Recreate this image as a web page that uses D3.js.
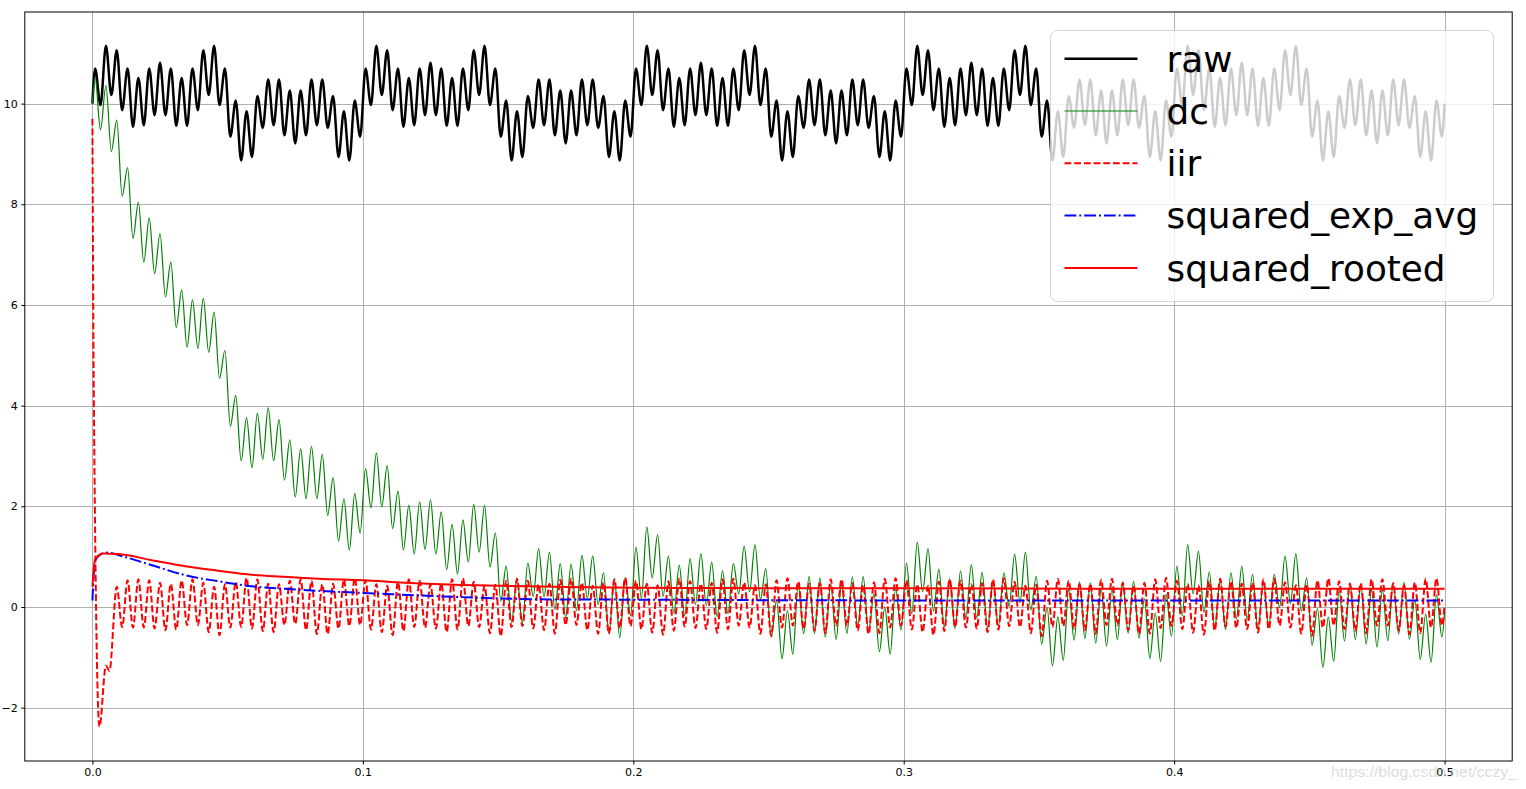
<!DOCTYPE html>
<html><head><meta charset="utf-8">
<script src="https://cdn.jsdelivr.net/npm/d3@7"></script>
<style>html,body{margin:0;padding:0;background:#fff;overflow:hidden}</style>
</head><body><svg id="chart" width="1526" height="789"></svg>
<script>
// ---------------- data ----------------
const xTicks = [0, 0.1, 0.2, 0.3, 0.4, 0.5];
const yTicks = [-2, 0, 2, 4, 6, 8, 10];
const seriesNames = ["raw", "dc", "iir", "squared_exp_avg", "squared_rooted"];

// oscillation extremes (peak, trough, peak, ...) sampled every half period (250 Hz)
const extremaStart = 0.001, extremaStep = 0.002, extremaCount = 250;

const rawStart = 10.0, rawEnd = 10.0;
const rawCycle1 = [10.70,9.97,11.15,10.17,11.06,9.87,10.70,9.54,10.51,9.57,10.70,9.77,10.81,9.77,10.70,9.56,10.51,9.56,10.70,9.87,11.06,10.17,11.15,9.97,10.70,9.34,10.06,8.87,9.85,8.94,10.15,9.52,10.48,9.57,10.48,9.37,10.26,9.21,10.26,9.37,10.48,9.57,10.48,9.52,10.15,8.94,9.85,8.87,10.06,9.34];
const rawCycle2 = [10.70,9.97,11.15,10.17,11.06,9.87,10.70,9.54,10.51,9.57,10.70,9.77,10.81,9.77,10.70,9.56,10.51,9.56,10.70,9.87,11.06,10.17,11.15,9.97,10.70,9.34,10.06,8.87,9.85,8.94,10.15,9.52,10.48,9.57,10.48,9.37,10.26,9.21,10.26,9.37,10.48,9.57,10.48,9.52,10.15,8.94,9.85,8.87,10.06,9.34];
const rawCycle3 = [10.70,9.97,11.15,10.17,11.06,9.87,10.70,9.54,10.51,9.57,10.70,9.77,10.81,9.77,10.70,9.56,10.51,9.56,10.70,9.87,11.06,10.17,11.15,9.97,10.70,9.34,10.06,8.87,9.85,8.94,10.15,9.52,10.48,9.57,10.48,9.37,10.26,9.21,10.26,9.37,10.48,9.57,10.48,9.52,10.15,8.94,9.85,8.87,10.06,9.34];
const rawCycle4 = [10.70,9.97,11.15,10.17,11.06,9.87,10.70,9.54,10.51,9.57,10.70,9.77,10.81,9.77,10.70,9.56,10.51,9.56,10.70,9.87,11.06,10.17,11.15,9.97,10.70,9.34,10.06,8.87,9.85,8.94,10.15,9.52,10.48,9.57,10.48,9.37,10.26,9.21,10.26,9.37,10.48,9.57,10.48,9.52,10.15,8.94,9.85,8.87,10.06,9.34];
const rawCycle5 = [10.70,9.97,11.15,10.17,11.06,9.87,10.70,9.54,10.51,9.57,10.70,9.77,10.81,9.77,10.70,9.56,10.51,9.56,10.70,9.87,11.06,10.17,11.15,9.97,10.70,9.34,10.06,8.87,9.85,8.94,10.15,9.52,10.48,9.57,10.48,9.37,10.26,9.21,10.26,9.37,10.48,9.57,10.48,9.52,10.15,8.94,9.85,8.87,10.06,9.34];

const dcStart = 10.0, dcEnd = -0.10;
const dcCycle1 = [10.51,9.48,10.36,9.05,9.67,8.16,8.73,7.32,8.04,6.85,7.73,6.62,7.42,6.16,6.85,5.55,6.30,5.16,6.10,5.13,6.13,5.06,5.86,4.54,5.10,3.59,4.20,2.90,3.76,2.77,3.85,2.93,3.96,2.90,3.72,2.52,3.32,2.18,3.14,2.15,3.19,2.15,3.03,1.82,2.57,1.31,2.15,1.13,2.25,1.47];
const dcCycle2 = [2.75,1.97,3.06,1.99,2.81,1.56,2.30,1.13,2.02,1.05,2.09,1.14,2.13,1.05,1.89,0.74,1.64,0.65,1.73,0.89,2.04,1.09,2.02,0.79,1.47,0.12,0.81,-0.30,0.56,-0.32,0.87,0.21,1.16,0.20,1.09,-0.05,0.86,-0.21,0.85,-0.07,1.03,0.17,1.01,0.05,0.68,-0.53,0.56,-0.61,0.58,-0.17];
const dcCycle3 = [1.19,0.17,1.59,0.58,1.44,0.21,1.01,-0.13,0.83,-0.17,0.96,0.05,1.06,0.03,0.89,-0.19,0.72,-0.13,0.86,0.26,1.21,0.30,1.24,0.15,0.76,-0.60,0.13,-1.03,-0.07,-0.94,0.46,-0.53,0.61,-0.53,0.58,-0.60,0.46,-0.65,0.46,-0.53,0.60,-0.40,0.61,-0.50,0.26,-0.89,0.00,-0.94,0.36,-0.46];
const dcCycle4 = [0.87,-0.13,1.29,0.30,1.16,-0.08,0.75,-0.40,0.56,-0.43,0.72,-0.22,0.84,-0.22,0.69,-0.43,0.52,-0.38,0.68,0.01,1.05,0.08,1.09,-0.06,0.61,-0.74,-0.01,-1.17,-0.19,-1.06,0.35,-0.66,0.50,-0.63,0.48,-0.72,0.36,-0.78,0.36,-0.65,0.50,-0.52,0.51,-0.62,0.16,-1.02,-0.12,-1.08,0.25,-0.58];
const dcCycle5 = [0.81,-0.17,1.24,0.26,1.11,-0.11,0.70,-0.43,0.55,-0.45,0.68,-0.24,0.81,-0.24,0.65,-0.45,0.50,-0.40,0.65,-0.01,1.01,0.06,1.06,-0.08,0.58,-0.76,-0.03,-1.20,-0.20,-1.08,0.33,-0.68,0.48,-0.65,0.46,-0.74,0.34,-0.80,0.34,-0.67,0.48,-0.54,0.49,-0.64,0.14,-1.04,-0.14,-1.10,0.24,-0.60];

// iir start-up transient (times, values), then extremes from the 5th extremum on
const iirHeadT = [0, 0.0005, 0.0026, 0.005, 0.0063];
const iirHeadV = [9.70, 4.30, -2.38, -1.17, -1.27];
const iirEnd = 0.05;
const iirCycle1 = [0.40,-0.40,0.53,-0.41,0.55,-0.41,0.53,-0.43,0.48,-0.46,0.46,-0.45,0.53,-0.36,0.55,-0.36,0.48,-0.50,0.40,-0.56,0.45,-0.41,0.50,-0.40,0.58,-0.43,0.55,-0.48,0.46,-0.50,0.45,-0.36,0.52,-0.34,0.55,-0.46,0.52,-0.54,0.45,-0.54,0.46,-0.43,0.55,-0.38,0.58,-0.36];
const iirCycle2 = [0.53,-0.45,0.45,-0.50,0.42,-0.56,0.50,-0.48,0.55,-0.40,0.52,-0.41,0.45,-0.43,0.47,-0.50,0.55,-0.45,0.57,-0.38,0.50,-0.40,0.42,-0.52,0.44,-0.58,0.52,-0.40,0.56,-0.38,0.52,-0.43,0.45,-0.46,0.46,-0.53,0.54,-0.36,0.56,-0.36,0.48,-0.46,0.42,-0.53,0.48,-0.53,0.55,-0.42,0.58,-0.38];
const iirCycle3 = [0.52,-0.44,0.46,-0.51,0.43,-0.55,0.51,-0.47,0.56,-0.39,0.51,-0.42,0.46,-0.44,0.48,-0.51,0.55,-0.44,0.56,-0.37,0.49,-0.41,0.43,-0.53,0.45,-0.57,0.53,-0.41,0.57,-0.37,0.51,-0.44,0.46,-0.47,0.47,-0.52,0.55,-0.37,0.55,-0.37,0.47,-0.47,0.43,-0.54,0.49,-0.52,0.56,-0.41,0.57,-0.37];
const iirCycle4 = [0.53,-0.45,0.45,-0.50,0.42,-0.56,0.50,-0.48,0.55,-0.40,0.52,-0.41,0.45,-0.43,0.47,-0.50,0.55,-0.45,0.57,-0.38,0.50,-0.40,0.42,-0.52,0.44,-0.58,0.52,-0.40,0.56,-0.38,0.52,-0.43,0.45,-0.46,0.46,-0.53,0.54,-0.36,0.56,-0.36,0.48,-0.46,0.42,-0.53,0.48,-0.53,0.55,-0.42,0.58,-0.38];
const iirCycle5 = [0.52,-0.44,0.46,-0.51,0.43,-0.55,0.51,-0.47,0.56,-0.39,0.51,-0.42,0.46,-0.44,0.48,-0.51,0.55,-0.44,0.56,-0.37,0.49,-0.41,0.43,-0.53,0.45,-0.57,0.53,-0.41,0.57,-0.37,0.51,-0.44,0.46,-0.47,0.47,-0.52,0.55,-0.37,0.55,-0.37,0.47,-0.47,0.43,-0.54,0.49,-0.52,0.56,-0.41,0.57,-0.37];

// smooth envelopes
const expAvgT = [0, 0.001, 0.005, 0.0122, 0.022, 0.0344, 0.0467, 0.059, 0.0713, 0.0836, 0.1002, 0.134, 0.171, 0.2, 0.25, 0.3, 0.4, 0.5];
const expAvgV = [0.13, 0.93, 1.08, 0.99, 0.83, 0.63, 0.51, 0.41, 0.36, 0.32, 0.28, 0.20, 0.15, 0.145, 0.135, 0.13, 0.13, 0.13];
const rootedT = [0, 0.001, 0.004, 0.0096, 0.022, 0.0344, 0.0467, 0.059, 0.0713, 0.0836, 0.1002, 0.1154, 0.134, 0.152, 0.171, 0.2, 0.3, 0.4, 0.5];
const rootedV = [0.40, 0.95, 1.06, 1.05, 0.93, 0.81, 0.72, 0.64, 0.60, 0.56, 0.53, 0.48, 0.44, 0.42, 0.40, 0.38, 0.37, 0.36, 0.36];

// ---------------- build series ----------------
const extremaT = d3.range(extremaCount).map(i => extremaStart + extremaStep * i);
const zip = (ts, vs) => ts.map((t, i) => [t, vs[i]]);

const rawVals = [...rawCycle1, ...rawCycle2, ...rawCycle3, ...rawCycle4, ...rawCycle5];
const dcVals = [...dcCycle1, ...dcCycle2, ...dcCycle3, ...dcCycle4, ...dcCycle5];
const iirVals = [...iirCycle1, ...iirCycle2, ...iirCycle3, ...iirCycle4, ...iirCycle5];

const rawPts = [[0, rawStart], ...zip(extremaT, rawVals), [0.5, rawEnd]];
const dcPts = [[0, dcStart], ...zip(extremaT, dcVals), [0.5, dcEnd]];
const iirPts = [...zip(iirHeadT, iirHeadV), ...zip(extremaT.slice(extremaCount - iirVals.length), iirVals), [0.5, iirEnd]];
const expPts = zip(expAvgT, expAvgV);
const rootPts = zip(rootedT, rootedV);

// ---------------- drawing ----------------
const W = 1526, H = 789;
const L = 24.8, R = 1512.2, T = 12, B = 761;
const x = d3.scaleLinear().domain([-0.025, 0.525]).range([L, R]);
const y = d3.scaleLinear().domain([-3.06, 11.82]).range([B, T]);

const svg = d3.select("#chart");
svg.append("rect").attr("width", W).attr("height", H).attr("fill", "#fff");

svg.append("defs").append("clipPath").attr("id", "plotclip")
  .append("rect").attr("x", L).attr("y", T).attr("width", R - L).attr("height", B - T);

// grid
const grid = svg.append("g").attr("stroke", "#b0b0b0").attr("stroke-width", 1);
grid.selectAll("line.gx").data(xTicks).join("line")
  .attr("x1", d => Math.round(x(d)) + 0.5).attr("x2", d => Math.round(x(d)) + 0.5)
  .attr("y1", T).attr("y2", B);
grid.selectAll("line.gy").data(yTicks).join("line")
  .attr("y1", d => Math.round(y(d)) + 0.5).attr("y2", d => Math.round(y(d)) + 0.5)
  .attr("x1", L).attr("x2", R);

// axes
const fmtY = d => (d < 0 ? "\u2212" + Math.abs(d) : String(d));
const xAxis = d3.axisBottom(x).tickValues(xTicks).tickFormat(d3.format(".1f")).tickSize(3.5).tickPadding(4).tickSizeOuter(0);
const yAxis = d3.axisLeft(y).tickValues(yTicks).tickFormat(fmtY).tickSize(3.5).tickPadding(3.5).tickSizeOuter(0);
const gx = svg.append("g").attr("transform", `translate(0,${B})`).call(xAxis);
const gy = svg.append("g").attr("transform", `translate(${L},0)`).call(yAxis);
[gx, gy].forEach(g => {
  g.select(".domain").remove();
  g.selectAll("text").attr("font-family", "DejaVu Sans").attr("font-size", 11).attr("fill", "#000");
  g.selectAll("line").attr("stroke", "#000").attr("stroke-width", 1);
});

const line = d3.line().x(d => x(d[0])).y(d => y(d[1])).curve(d3.curveMonotoneX);
const styles = [
  { name: "raw", pts: rawPts, color: "#000000", width: 2.5, dash: null },
  { name: "dc", pts: dcPts, color: "#008000", width: 1.2, dash: null },
  { name: "iir", pts: iirPts, color: "#ff0000", width: 2, dash: "6.8,2.9" },
  { name: "squared_exp_avg", pts: expPts, color: "#0000ff", width: 2, dash: "11.8,3,1.9,3" },
  { name: "squared_rooted", pts: rootPts, color: "#ff0000", width: 2, dash: null }
];
const plot = svg.append("g").attr("clip-path", "url(#plotclip)");
styles.forEach(s => {
  plot.append("path").datum(s.pts).attr("d", line)
    .attr("fill", "none").attr("stroke", s.color).attr("stroke-width", s.width)
    .attr("stroke-linejoin", "round")
    .attr("stroke-dasharray", s.dash);
});

// frame
svg.append("rect").attr("x", L).attr("y", T).attr("width", R - L).attr("height", B - T)
  .attr("fill", "none").attr("stroke", "#000").attr("stroke-width", 1);

// legend
const lg = svg.append("g");
lg.append("rect").attr("x", 1050.5).attr("y", 30.5).attr("width", 443).attr("height", 271).attr("rx", 7)
  .attr("fill", "rgba(255,255,255,0.8)").attr("stroke", "rgba(204,204,204,0.8)").attr("stroke-width", 1);
styles.forEach((s, i) => {
  const cy = 58.7 + i * 52.3;
  lg.append("line").attr("x1", 1064.5).attr("x2", 1137.5).attr("y1", cy).attr("y2", cy)
    .attr("stroke", s.color).attr("stroke-width", s.width).attr("stroke-dasharray", s.dash);
  lg.append("text").attr("x", 1166.5).attr("y", cy + 12.8).text(seriesNames[i])
    .attr("font-family", "DejaVu Sans").attr("font-size", 35.8).attr("fill", "#000");
});

// watermark
svg.append("text").attr("x", 1331).attr("y", 777).text("https://blog.csdn.net/cczy_")
  .attr("font-family", "Liberation Sans").attr("font-size", 15.5)
  .attr("textLength", 186).attr("lengthAdjust", "spacingAndGlyphs")
  .attr("fill", "rgba(190,190,190,0.55)");
</script></body></html>
